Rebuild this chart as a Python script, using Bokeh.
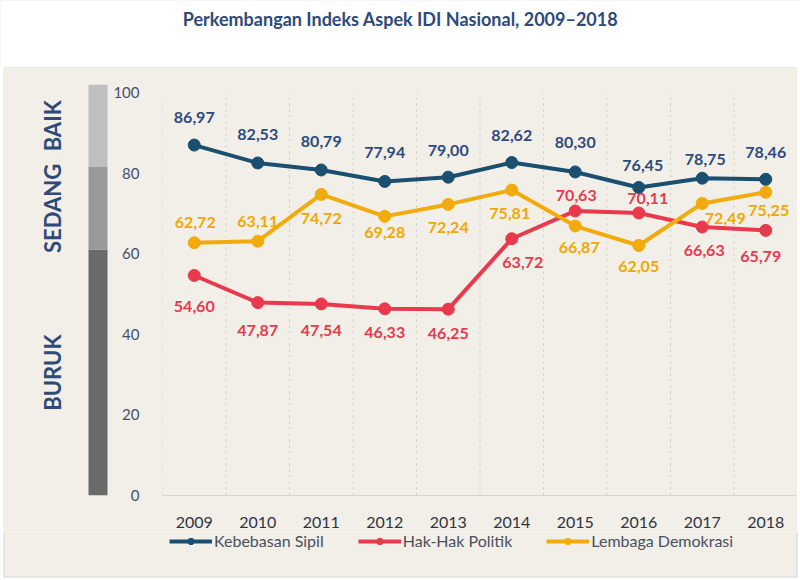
from bokeh.plotting import figure
from bokeh.layouts import column, row, Spacer
from bokeh.models import (ColumnDataSource, Range1d, FixedTicker, BoxAnnotation,
                          Label, Legend, LegendItem)
from bokeh.core.properties import value
from bokeh.embed import file_html
from bokeh.resources import INLINE

# ---- data -------------------------------------------------------------
years = ["2009", "2010", "2011", "2012", "2013", "2014", "2015", "2016", "2017", "2018"]
kebebasan_sipil = [86.97, 82.53, 80.79, 77.94, 79.00, 82.62, 80.30, 76.45, 78.75, 78.46]
hak_hak_politik = [54.60, 47.87, 47.54, 46.33, 46.25, 63.72, 70.63, 70.11, 66.63, 65.79]
lembaga_demokrasi = [62.72, 63.11, 74.72, 69.28, 72.24, 75.81, 66.87, 62.05, 72.49, 75.25]

# category scale shown beside the y axis
band_names = ["BURUK", "SEDANG", "BAIK"]
band_low = [0, 61, 81.5]
band_high = [61, 81.5, 102]
band_colors = ["#6a6a6a", "#999999", "#bfbfbf"]

y_ticks = [0, 20, 40, 60, 80, 100]

# ---- label placement (pixel offsets, screen direction) -----------------
blue_dx = [0, 0, 0, 0, 0, 0, 0, 4, 3, 0]
blue_dy = [-28, -28, -28, -29, -27, -27, -29, -22, -19, -27]
red_dx = [0, 0, 0, 0, 0, 11, 1, 9, 2, -5]
red_dy = [31, 28, 27, 24, 24, 24, -15, -14, 23, 26]
yellow_dx = [1, 0, 0, 0, 0, -2, 4, 0, 23, 3]
yellow_dy = [-20, -20, 24, 16, 23, 23, 21, 21, 15, 18]

FONT = "Lato"
NAVY = "#2e4a7a"
PANEL = "#f2efe9"
EDGE = "#d9d9d9"

# ---- page layout (pixels) ----------------------------------------------
W, H = 800, 580
PANEL_TOP, PANEL_LEFT, PANEL_RIGHT, PANEL_BOTTOM = 68, 3, 797, 577
SIDE_RIGHT = 110        # strip holding the category bar
FRAME_LEFT = 160
FRAME_TOP, FRAME_BOTTOM = 84, 495
ROW_BOTTOM = 532        # where the legend strip starts
Y_MAX = band_high[-1]

xs = list(range(len(years)))
row_h = ROW_BOTTOM - PANEL_TOP


def bare(fig):
    fig.axis.visible = False
    fig.grid.grid_line_color = None
    fig.outline_line_color = None
    return fig


# ---- title strip --------------------------------------------------------
title_fig = bare(figure(width=W, height=PANEL_TOP, output_backend="svg", title=None,
                        toolbar_location=None, x_range=Range1d(0, W),
                        y_range=Range1d(0, PANEL_TOP), min_border=0))
title_fig.background_fill_color = "white"
title_fig.border_fill_color = "white"
title_fig.add_layout(Label(x=W / 2, y=PANEL_TOP - 18,
                           text="Perkembangan Indeks Aspek IDI Nasional, 2009\u20132018",
                           text_font=FONT, text_font_style="bold", text_font_size="18px",
                           text_color=NAVY, text_align="center", text_baseline="middle"))
title_fig.add_layout(BoxAnnotation(left=PANEL_LEFT, right=PANEL_RIGHT, bottom=0, top=1,
                                   fill_color=EDGE, fill_alpha=1, line_color=None))

# ---- side strip with the category bar ----------------------------------
side = bare(figure(width=SIDE_RIGHT - PANEL_LEFT, height=row_h, output_backend="svg",
                   title=None, toolbar_location=None,
                   x_range=Range1d(PANEL_LEFT, SIDE_RIGHT), y_range=Range1d(0, Y_MAX),
                   min_border_left=0, min_border_right=0,
                   min_border_top=FRAME_TOP - PANEL_TOP,
                   min_border_bottom=ROW_BOTTOM - FRAME_BOTTOM))
side.background_fill_color = PANEL
side.border_fill_color = PANEL
band_src = ColumnDataSource(dict(lo=band_low, hi=band_high, color=band_colors,
                                 name=band_names,
                                 mid=[(a + b) / 2 for a, b in zip(band_low, band_high)]))
side.quad(left=88, right=107, bottom="lo", top="hi", fill_color="color",
          line_color=None, source=band_src)
side.text(x=52, y="mid", text="name", angle=1.5708, source=band_src,
          text_font=value(FONT), text_font_style="bold", text_font_size="22px",
          text_color=NAVY, text_align="center", text_baseline="middle")

# ---- main chart ---------------------------------------------------------
p = figure(width=PANEL_RIGHT - SIDE_RIGHT, height=row_h, output_backend="svg",
           title=None, toolbar_location=None,
           x_range=Range1d(-0.5, len(years) - 0.5), y_range=Range1d(0, Y_MAX),
           min_border_left=FRAME_LEFT - SIDE_RIGHT, min_border_right=0,
           min_border_top=FRAME_TOP - PANEL_TOP,
           min_border_bottom=ROW_BOTTOM - FRAME_BOTTOM)
p.outline_line_color = None
p.background_fill_color = PANEL
p.border_fill_color = PANEL

p.xaxis.ticker = FixedTicker(ticks=xs)
p.xaxis.major_label_overrides = {i: y for i, y in enumerate(years)}
p.xaxis.axis_line_color = "#d4d4d4"
p.xaxis.major_tick_line_color = None
p.xaxis.minor_tick_line_color = None
p.xaxis.major_label_text_font = FONT
p.xaxis.major_label_text_font_size = "16px"
p.xaxis.major_label_text_color = "#2e3440"
p.xaxis.major_label_standoff = 15

p.yaxis.ticker = FixedTicker(ticks=y_ticks)
p.yaxis.axis_line_color = None
p.yaxis.major_tick_line_color = None
p.yaxis.minor_tick_line_color = None
p.yaxis.major_label_text_font = FONT
p.yaxis.major_label_text_font_size = "15px"
p.yaxis.major_label_text_color = "#44506b"
p.yaxis.major_label_standoff = 17

p.grid.grid_line_color = None
# dotted separators between the years, spanning the 0-100 scale
bounds = [i - 0.5 for i in range(len(years) + 1)]
p.segment(x0=bounds, x1=bounds, y0=y_ticks[0], y1=y_ticks[-1],
          line_color="#c9c9c9", line_width=1, line_dash="dotted")

series = [
    ("Kebebasan Sipil", kebebasan_sipil, "#1b4f6f", "#2d4a7c", blue_dx, blue_dy),
    ("Hak-Hak Politik", hak_hak_politik, "#e8394d", "#e8394d", red_dx, red_dy),
    ("Lembaga Demokrasi", lembaga_demokrasi, "#f2ab0c", "#f0a800", yellow_dx, yellow_dy),
]

for name, vals, color, lcolor, dx, dy in series:
    src = ColumnDataSource(dict(
        x=xs, y=vals,
        label=[f"{v:.2f}".replace(".", ",") for v in vals],
        dx=dx, dy=dy))
    p.line("x", "y", source=src, line_color=color, line_width=4)
    p.scatter("x", "y", source=src, size=12, fill_color=color, line_color=color)
    p.text("x", "y", text="label", x_offset="dx", y_offset="dy", source=src,
           text_font=value(FONT), text_font_style="bold", text_font_size="16px",
           text_color=lcolor, text_align="center", text_baseline="middle")

# ---- legend strip -------------------------------------------------------
leg_h = H - ROW_BOTTOM
leg = bare(figure(width=W, height=leg_h, output_backend="svg", title=None,
                  toolbar_location=None, x_range=Range1d(0, W),
                  y_range=Range1d(0, leg_h), min_border=0))
leg.background_fill_color = "white"
leg.border_fill_color = "white"
leg.add_layout(BoxAnnotation(left=PANEL_LEFT, right=PANEL_RIGHT, bottom=H - PANEL_BOTTOM,
                             top=leg_h + 2, fill_color=PANEL, fill_alpha=1,
                             line_color=None))
# thin panel edges (left, right, bottom)
for l, r, b, t in [(PANEL_LEFT, PANEL_LEFT + 1, H - PANEL_BOTTOM, leg_h),
                   (PANEL_RIGHT - 1, PANEL_RIGHT, H - PANEL_BOTTOM, leg_h),
                   (PANEL_LEFT, PANEL_RIGHT, H - PANEL_BOTTOM, H - PANEL_BOTTOM + 1)]:
    leg.add_layout(BoxAnnotation(left=l, right=r, bottom=b, top=t, fill_color=EDGE,
                                 fill_alpha=1, line_color=None))

# the series are repeated on a range that lies outside this strip, so only
# their legend swatches show
leg.extra_y_ranges = {"hidden": Range1d(1000, 1000 + leg_h)}
items = []
for name, vals, color, lcolor, dx, dy in series:
    sw_line = leg.line(x=xs, y=vals, line_color=color, line_width=4, y_range_name="hidden")
    sw_pt = leg.scatter(x=xs, y=vals, size=12, fill_color=color, line_color=color,
                        y_range_name="hidden")
    items.append(LegendItem(label=name, renderers=[sw_line, sw_pt]))

legend = Legend(items=items, orientation="horizontal", location=(169, 30),
                label_text_font=FONT, label_text_font_size="16px",
                label_text_color="#4a4f5e", background_fill_alpha=0,
                border_line_color=None, glyph_width=43, glyph_height=16,
                label_standoff=2, spacing=34, padding=0, margin=0)
leg.add_layout(legend)

middle = row(Spacer(width=PANEL_LEFT, height=row_h, styles={"background-color": "white"}),
             side, p,
             Spacer(width=W - PANEL_RIGHT, height=row_h, styles={"background-color": "white"}),
             styles={"background-color": PANEL})
layout = column(title_fig, middle, leg, styles={"background-color": PANEL})
open("out.html", "w").write(file_html(layout, INLINE))
